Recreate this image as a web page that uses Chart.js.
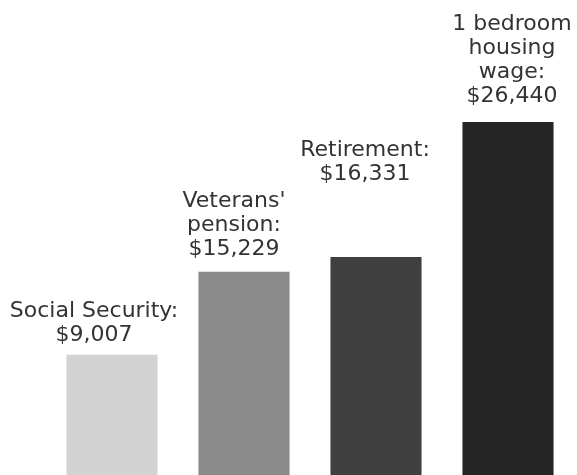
<!DOCTYPE html>
<html>
<head>
    <title>Income vs housing wage</title>
    <script src="https://cdn.jsdelivr.net/npm/chart.js"></script>
    <style>
        html, body { margin: 0; padding: 0; background: #fff; }
        .wrap { width: 577px; height: 475px; position: relative; }
    </style>
</head>
<body>
    <div class="wrap">
        <canvas id="chart"></canvas>
    </div>

    <script type="text/javascript">
        const categories = ['Social Security', "Veterans' pension", 'Retirement', '1 bedroom housing wage'];
        const values = [9007, 15229, 16331, 26440];
        const labelLines = [
            ['Social Security:', '$9,007'],
            ["Veterans'", 'pension:', '$15,229'],
            ['Retirement:', '$16,331'],
            ['1 bedroom', 'housing', 'wage:', '$26,440']
        ];
        const barColors = ['#d3d3d3', '#8b8b8b', '#3f3f3f', '#252525'];

        // label placement tweaks (x shift, gap above bar top)
        const labelShiftX = [-18, -10, -11, 4];
        const labelGap = [14, 17, 77, 20];

        const barLabels = {
            id: 'barLabels',
            afterDatasetsDraw(chart) {
                const ctx = chart.ctx;
                const meta = chart.getDatasetMeta(0);
                ctx.save();
                ctx.font = '22px "DejaVu Sans", sans-serif';
                ctx.fillStyle = '#333333';
                ctx.textAlign = 'center';
                ctx.textBaseline = 'alphabetic';
                meta.data.forEach((bar, i) => {
                    const lines = labelLines[i];
                    const x = bar.x + labelShiftX[i];
                    let y = bar.y - labelGap[i];
                    for (let j = lines.length - 1; j >= 0; j--) {
                        ctx.fillText(lines[j], x, y);
                        y -= 24;
                    }
                });
                ctx.restore();
            }
        };

        const ctx = document.getElementById('chart');
        let chart = new Chart(ctx, {
            type: 'bar',
            data: {
                labels: categories,
                datasets: [{
                    data: values,
                    backgroundColor: barColors,
                    borderWidth: 0,
                    categoryPercentage: 1,
                    barPercentage: 0.69
                }]
            },
            options: {
                responsive: true,
                maintainAspectRatio: false,
                animation: false,
                layout: { padding: { left: 46, right: 3, top: 0, bottom: 0 } },
                plugins: {
                    legend: { display: false },
                    tooltip: { enabled: false }
                },
                scales: {
                    x: { display: false },
                    y: { display: false, min: 0, max: 35580 }
                }
            },
            plugins: [barLabels]
        })
    </script>
</body>
</html>
